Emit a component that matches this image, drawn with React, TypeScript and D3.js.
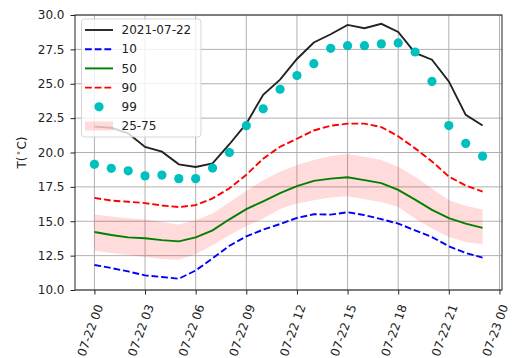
import React, { useEffect, useRef } from 'react';
import * as d3 from 'd3';

// hourly values for 2021-07-22, hours 0..23
const hours = d3.range(0, 24);
const observed = [21.88, 21.8, 21.4, 20.4, 20.06, 19.14, 18.95, 19.2, 20.6, 22.1, 24.2, 25.3, 26.8, 28.0, 28.6, 29.28, 29.04, 29.36, 28.77, 27.24, 26.75, 25.17, 22.74, 21.96];
const p10 = [11.82, 11.6, 11.35, 11.06, 10.95, 10.82, 11.42, 12.3, 13.22, 13.9, 14.39, 14.8, 15.24, 15.51, 15.48, 15.66, 15.45, 15.15, 14.83, 14.34, 13.85, 13.18, 12.69, 12.35];
const p50 = [14.22, 14.0, 13.83, 13.76, 13.63, 13.54, 13.83, 14.34, 15.14, 15.88, 16.45, 17.05, 17.55, 17.94, 18.1, 18.2, 17.99, 17.77, 17.28, 16.57, 15.83, 15.22, 14.83, 14.52];
const p90 = [16.7, 16.5, 16.42, 16.32, 16.15, 16.03, 16.17, 16.66, 17.4, 18.38, 19.55, 20.42, 21.0, 21.6, 21.95, 22.1, 22.1, 21.85, 21.18, 20.3, 19.35, 18.25, 17.6, 17.15];
const p99 = [19.14, 18.85, 18.67, 18.3, 18.36, 18.1, 18.1, 18.87, 20.0, 21.95, 23.18, 24.6, 25.6, 26.46, 27.58, 27.77, 27.77, 27.9, 27.97, 27.31, 25.17, 21.96, 20.66, 19.73];
const p25 = [12.85, 12.7, 12.55, 12.4, 12.25, 12.2, 12.6, 13.25, 13.98, 14.65, 15.2, 15.9, 16.3, 16.53, 16.73, 16.82, 16.6, 16.4, 16.04, 15.2, 14.47, 13.85, 13.49, 13.32];
const p75 = [15.49, 15.35, 15.22, 15.12, 14.95, 14.76, 15.07, 15.56, 16.4, 17.2, 17.99, 18.6, 19.09, 19.45, 19.74, 19.89, 19.69, 19.45, 18.96, 18.23, 17.39, 16.53, 16.12, 15.85];
const yTicks = [10, 12.5, 15, 17.5, 20, 22.5, 25, 27.5, 30];
const legendLabels = ['2021-07-22', '10', '50', '90', '99', '25-75'];

export default function App() {
  const ref = useRef<SVGSVGElement>(null);

  useEffect(() => {
    const svg = d3.select(ref.current);
    svg.selectAll('*').remove();

    const W = 512, H = 358;
    const left = 75, right = 502, top = 15, bottom = 290;
    const font = 'DejaVu Sans, sans-serif';
    const fs = 12;

    const t0 = Date.UTC(2021, 6, 22, 0);
    const hr = 3600 * 1000;
    const dates = hours.map(h => new Date(t0 + h * hr));

    const x = d3.scaleUtc()
      .domain([new Date(t0 - 1.15 * hr), new Date(t0 + 24.15 * hr)])
      .range([left, right]);
    const y = d3.scaleLinear().domain([10, 30]).range([bottom, top]);
    const xTicks = x.ticks(d3.utcHour.every(3)!);

    svg.attr('width', W).attr('height', H);
    svg.append('rect').attr('width', W).attr('height', H).attr('fill', '#fff');

    // grid
    const grid = svg.append('g').attr('stroke', '#b0b0b0').attr('stroke-width', 1);
    xTicks.forEach(t => {
      grid.append('line').attr('x1', x(t)).attr('x2', x(t)).attr('y1', top).attr('y2', bottom);
    });
    yTicks.forEach(v => {
      grid.append('line').attr('x1', left).attr('x2', right).attr('y1', y(v)).attr('y2', y(v));
    });

    // 25-75 band
    const area = d3.area<number>()
      .x((_, i) => x(dates[i]))
      .y0((_, i) => y(p25[i]))
      .y1((_, i) => y(p75[i]));
    svg.append('path').datum(hours).attr('d', area)
      .attr('fill', 'rgba(255,0,0,0.14)').attr('stroke', 'none');

    const line = (vals: number[]) => d3.line<number>()
      .x((_, i) => x(dates[i]))
      .y(d => y(d))(vals);

    const series = [
      { vals: observed, color: '#222222', dash: null },
      { vals: p10, color: '#0000ff', dash: '6.8,2.9' },
      { vals: p50, color: '#008000', dash: null },
      { vals: p90, color: '#ff0000', dash: '6.8,2.9' },
    ];
    series.forEach(s => {
      svg.append('path').attr('d', line(s.vals)!)
        .attr('fill', 'none').attr('stroke', s.color).attr('stroke-width', 1.9)
        .attr('stroke-dasharray', s.dash);
    });

    svg.append('g').selectAll('circle').data(p99).join('circle')
      .attr('cx', (_, i) => x(dates[i])).attr('cy', d => y(d))
      .attr('r', 4.6).attr('fill', '#00bfbf');

    // spines
    svg.append('rect').attr('x', left).attr('y', top)
      .attr('width', right - left).attr('height', bottom - top)
      .attr('fill', 'none').attr('stroke', '#222').attr('stroke-width', 1);

    // y axis
    const yAxis = svg.append('g').attr('transform', `translate(${left},0)`)
      .call(d3.axisLeft(y).tickValues(yTicks).tickFormat(d3.format('.1f')).tickSize(4.5).tickPadding(6));
    yAxis.select('.domain').remove();
    yAxis.selectAll('line').attr('stroke', '#222');
    yAxis.selectAll('text').attr('font-family', font).attr('font-size', fs).attr('fill', '#222');

    // x axis
    const xAxis = svg.append('g').attr('transform', `translate(0,${bottom})`)
      .call(d3.axisBottom(x).tickValues(xTicks).tickSize(4.5).tickFormat(() => ''));
    xAxis.select('.domain').remove();
    xAxis.selectAll('line').attr('stroke', '#222');
    const fmt = d3.utcFormat('%m-%d %H');
    svg.append('g').selectAll('text').data(xTicks).join('text')
      .attr('transform', d => `translate(${x(d) + 5},${305}) rotate(-70)`)
      .attr('text-anchor', 'end').attr('dy', '0.35em')
      .attr('font-family', font).attr('font-size', fs).attr('fill', '#222')
      .text(d => fmt(d));

    // y label
    const yl = svg.append('text')
      .attr('transform', `translate(26,${(top + bottom) / 2}) rotate(-90)`)
      .attr('text-anchor', 'middle')
      .attr('font-family', font).attr('font-size', fs).attr('fill', '#222');
    yl.append('tspan').text('T(');
    yl.append('tspan').attr('font-size', 8).attr('dy', -5).attr('dx', 1).text('∘');
    yl.append('tspan').attr('dy', 5).attr('dx', 1).text('C)');

    // legend
    const lg = svg.append('g');
    lg.append('rect').attr('x', 81.5).attr('y', 19).attr('width', 119.5).attr('height', 118)
      .attr('rx', 3).attr('fill', 'rgba(255,255,255,0.8)').attr('stroke', 'rgba(204,204,204,0.8)');
    const rowY = (i: number) => 30 + i * 19.2;
    const lx0 = 85, lx1 = 113;
    series.forEach((s, i) => {
      lg.append('line').attr('x1', lx0).attr('x2', lx1).attr('y1', rowY(i)).attr('y2', rowY(i))
        .attr('stroke', s.color).attr('stroke-width', 1.9).attr('stroke-dasharray', s.dash);
    });
    lg.append('circle').attr('cx', (lx0 + lx1) / 2).attr('cy', rowY(4)).attr('r', 4.6).attr('fill', '#00bfbf');
    lg.append('rect').attr('x', lx0).attr('y', rowY(5) - 4.5).attr('width', lx1 - lx0).attr('height', 9)
      .attr('fill', 'rgba(255,0,0,0.14)');
    legendLabels.forEach((l, i) => {
      lg.append('text').attr('x', 121.5).attr('y', rowY(i)).attr('dy', '0.35em')
        .attr('font-family', font).attr('font-size', fs).attr('fill', '#222').text(l);
    });
  }, []);

  return (
    <svg ref={ref} style={{ position: 'absolute', left: 0, top: 0 }}></svg>
  );
}
